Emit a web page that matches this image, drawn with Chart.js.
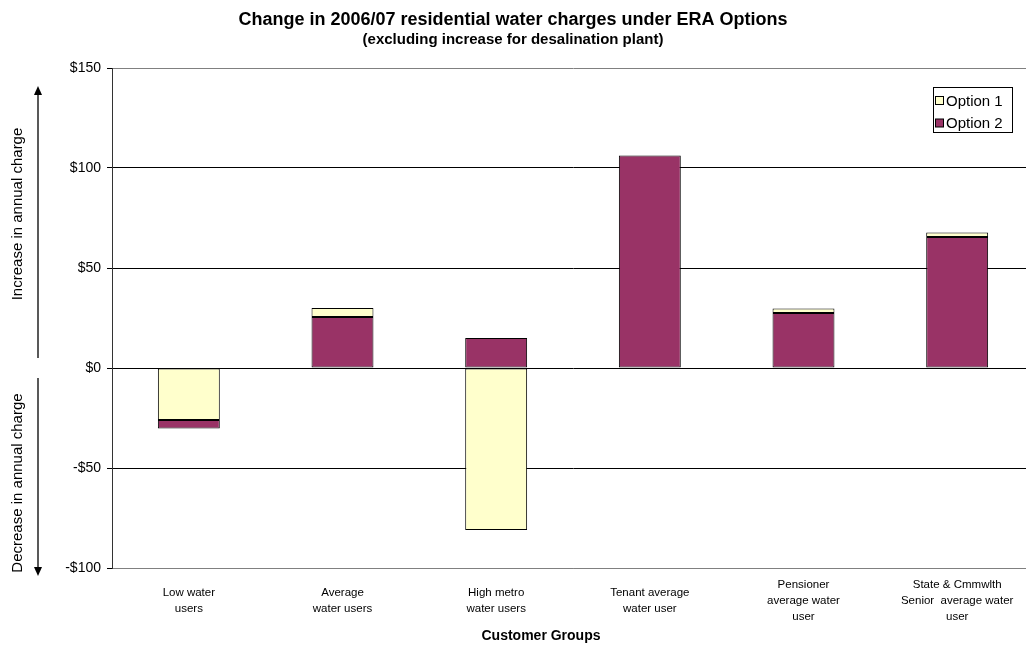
<!DOCTYPE html>
<html lang="en">
<head>
<meta charset="UTF-8" />
<title>Change in 2006/07 residential water charges under ERA Options</title>
<script src="https://cdn.jsdelivr.net/npm/chart.js"></script>
<style>
  html, body { margin: 0; padding: 0; background: #fff; overflow: hidden; }
  #wrap { width: 1034px; height: 645px; }
</style>
</head>
<body>
<div id="wrap"><canvas id="grafico" width="1034" height="645"></canvas></div>
<script>
  // dados
  var categorias = [
    ["Low water", "users"],
    ["Average", "water users"],
    ["High metro", "water users"],
    ["Tenant average", "water user"],
    ["Pensioner", "average water", "user"],
    ["State & Cmmwlth", "Senior  average water", "user"]
  ];
  var opcao1 = [-26, 30, -81, 106.3, 29.7, 67.8];
  var opcao2 = [-30.3, 25.5, 15, 106.3, 27.5, 65.5];
  var ticksY = [-100, -50, 0, 50, 100, 150];
  var nomes = ["Option 1", "Option 2"];
  var cores = ["#FFFFCC", "#993366"];

  var titulo = "Change in 2006/07 residential water charges under ERA Options";
  var subtitulo = "(excluding increase for desalination plant)";
  var tituloX = "Customer Groups";
  var fonte = '"Liberation Sans", Arial, sans-serif';

  // as barras se sobrepoem (como no Excel): a menor fica na frente,
  // entao cada serie mostra so o pedaco que fica visivel
  function pedaco(a, b, frente) {
    if (a * b > 0 && Math.abs(a) > Math.abs(b)) return [b, a];
    if (a === b) return frente ? [0, a] : null;
    return [0, a];
  }
  var dados1 = opcao1.map(function (v, i) { return pedaco(v, opcao2[i], false); });
  var dados2 = opcao2.map(function (v, i) { return pedaco(v, opcao1[i], true); });

  function seta(ctx, x, y0, y1) {
    var dir = y1 > y0 ? 1 : -1;
    ctx.beginPath();
    ctx.moveTo(x, y0);
    ctx.lineTo(x, y1 - dir * 8);
    ctx.stroke();
    ctx.beginPath();
    ctx.moveTo(x, y1);
    ctx.lineTo(x - 4, y1 - dir * 9);
    ctx.lineTo(x + 4, y1 - dir * 9);
    ctx.closePath();
    ctx.fill();
  }

  function textoVertical(ctx, texto, x, y) {
    ctx.save();
    ctx.translate(x, y);
    ctx.rotate(-Math.PI / 2);
    ctx.fillText(texto, 0, 0);
    ctx.restore();
  }

  var extras = {
    id: "extras",
    afterDraw: function (chart) {
      var ctx = chart.ctx;
      ctx.save();
      ctx.fillStyle = "#000";
      ctx.textAlign = "center";
      ctx.textBaseline = "middle";
      ctx.font = "bold 18px " + fonte;
      ctx.fillText(titulo, 513, 20);
      ctx.font = "bold 15px " + fonte;
      ctx.fillText(subtitulo, 513, 40);
      ctx.font = "bold 14px " + fonte;
      ctx.fillText(tituloX, 541, 636);

      // setas laterais
      ctx.strokeStyle = "#222";
      ctx.lineWidth = 1.5;
      seta(ctx, 38, 358, 86);
      seta(ctx, 38, 378, 576);

      ctx.font = "15px " + fonte;
      textoVertical(ctx, "Increase in annual charge", 18, 214);
      textoVertical(ctx, "Decrease in annual charge", 18, 483);

      // legenda
      ctx.lineWidth = 1;
      ctx.fillStyle = "#fff";
      ctx.fillRect(933.5, 87.5, 79, 45);
      ctx.strokeStyle = "#000";
      ctx.strokeRect(933.5, 87.5, 79, 45);
      ctx.textAlign = "left";
      ctx.font = "15px " + fonte;
      chart.data.datasets.forEach(function (ds, i) {
        var y = 101 + i * 22.5;
        ctx.fillStyle = ds.backgroundColor;
        ctx.fillRect(935.5, y - 4.5, 8, 8);
        ctx.strokeRect(935.5, y - 4.5, 8, 8);
        ctx.fillStyle = "#000";
        ctx.fillText(ds.label, 946, y + 0.5);
      });
      ctx.restore();
    }
  };

  var grafico = new Chart(document.getElementById("grafico"), {
    type: "bar",
    data: {
      labels: categorias,
      datasets: [
        {
          label: nomes[0],
          data: dados1,
          backgroundColor: cores[0],
          borderColor: "#000",
          borderWidth: 1,
          borderSkipped: false
        },
        {
          label: nomes[1],
          data: dados2,
          backgroundColor: cores[1],
          borderColor: "#000",
          borderWidth: 1,
          borderSkipped: false
        }
      ]
    },
    options: {
      responsive: false,
      animation: false,
      categoryPercentage: 1,
      barPercentage: 0.403,
      layout: { padding: { top: 68, left: 0, right: 0, bottom: 0 } },
      plugins: {
        legend: { display: false },
        title: { display: false },
        tooltip: { enabled: false }
      },
      scales: {
        x: {
          stacked: true,
          grid: { display: false, drawTicks: false },
          border: { color: "#808080", width: 1 },
          ticks: {
            color: "#000",
            font: { family: fonte, size: 11.5, lineHeight: "16px" },
            maxRotation: 0,
            autoSkip: false,
            crossAlign: "center",
            padding: 17
          },
          afterFit: function (s) { s.height = 77; }
        },
        y: {
          min: ticksY[0],
          max: ticksY[ticksY.length - 1],
          afterBuildTicks: function (s) {
            s.ticks = ticksY.map(function (v) { return { value: v }; });
          },
          grid: {
            color: function (c) {
              var v = c.tick ? c.tick.value : 0;
              return v === 150 || v === -100 ? "#808080" : "#000";
            },
            tickLength: 5,
            tickColor: "#000"
          },
          border: { color: "#333", width: 1 },
          ticks: {
            color: "#000",
            font: { family: fonte, size: 14 },
            padding: 6,
            callback: function (v) { return (v < 0 ? "-$" : "$") + Math.abs(v); }
          },
          afterFit: function (s) { s.width = 112; }
        }
      }
    },
    plugins: [extras]
  });
</script>
</body>
</html>
